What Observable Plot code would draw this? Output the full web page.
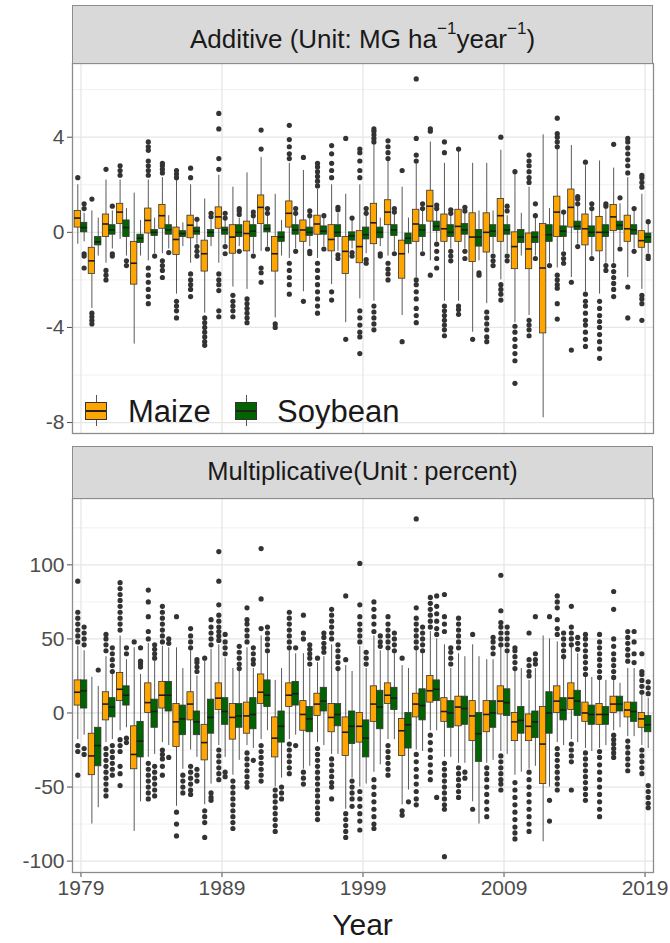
<!DOCTYPE html>
<html><head><meta charset="utf-8">
<script src="https://cdn.jsdelivr.net/npm/d3@7"></script>
<script src="https://cdn.jsdelivr.net/npm/@observablehq/plot@0.6"></script>
<style>
body{margin:0;background:#fff;font-family:"Liberation Sans",Arial,sans-serif}
#wrap{position:relative;width:670px;height:943px;overflow:hidden}
.strip{position:absolute;left:72px;width:581px;background:#D9D9D9;border:1.3px solid #8c8c8c;box-sizing:border-box}
.t{position:absolute;white-space:nowrap;color:#1A1A1A}
.sup{position:relative;top:-14px;font-size:17px;line-height:0}
.key{position:absolute;width:22px;height:18px;box-sizing:border-box;border:1.2px solid #333}
.key .m{position:absolute;left:0;right:0;top:7px;height:2px;background:#222}
.wh{position:absolute;width:1px;background:#555}
svg{position:absolute;left:0}
</style></head><body><div id="wrap"></div><script>
const years = [1979,1980,1981,1982,1983,1984,1985,1986,1987,1988,1989,1990,1991,1992,1993,1994,1995,1996,1997,1998,1999,2000,2001,2002,2003,2004,2005,2006,2007,2008,2009,2010,2011,2012,2013,2014,2015,2016,2017,2018,2019];
const crops = ["Maize","Soybean"];
const cropColors = ["#FFA500","#006400"];
const xTicks = [1979,1989,1999,2009,2019];
const addTicks = [-8,-4,0,4];
const addMinor = [-6,-2,2,6];
const mulTicks = [-100,-50,0,50,100];
const mulMinor = [-75,-25,25,75,125];

// [lower whisker, Q1, median, Q3, upper whisker]
const addMaize = [
[-0.5,0.2,0.6,0.9,2.0],[-3.2,-1.75,-1.2,-0.65,0.9],[-1.3,-0.2,0.35,0.75,2.2],[-0.3,0.35,0.85,1.2,2.2],[-4.7,-2.2,-1.3,-0.4,1.65],
[-1.2,-0.05,0.5,1.0,2.2],[-0.9,0.15,0.7,1.15,2.3],[-2.6,-0.95,-0.3,0.2,2.2],[-1.3,-0.25,0.3,0.7,2.0],[-3.4,-1.65,-0.9,-0.35,1.4],
[-1.3,0.15,0.65,1.05,2.4],[-2.3,-0.9,-0.2,0.3,1.9],[-2.4,-0.8,-0.05,0.45,2.5],[-0.8,0.35,1.05,1.55,3.15],[-3.6,-1.65,-0.9,-0.2,1.6],
[-1.1,0.2,0.8,1.3,2.9],[-2.5,-0.4,0.1,0.5,2.6],[-1.1,-0.1,0.35,0.7,1.8],[-2.2,-0.8,-0.3,0.3,2.0],[-3.8,-1.75,-0.8,-0.2,1.6],
[-2.8,-1.3,-0.6,0.05,2.0],[-2.9,-0.5,0.4,1.2,3.7],[-1.0,0.3,0.85,1.35,3.0],[-3.5,-1.95,-0.9,-0.35,1.9],[-1.9,-0.4,0.35,0.95,2.9],
[-1.2,0.45,1.1,1.75,3.8],[-2.9,-0.4,0.15,0.75,2.9],[-2.9,-0.4,0.25,0.95,3.4],[-4.2,-1.25,-0.2,0.8,2.9],[-3.0,-0.85,0.0,0.8,2.9],
[-2.0,-0.4,0.7,1.4,3.45],[-3.8,-1.55,-0.6,0.0,2.45],[-3.5,-1.55,-0.7,-0.05,1.9],[-7.8,-4.25,-1.5,0.35,4.1],[-1.5,-0.2,0.85,1.5,3.5],
[-1.9,0.2,1.05,1.8,3.65],[-2.5,-0.55,0.15,0.75,2.8],[-2.6,-0.8,0.0,0.65,3.0],[-1.3,0.05,0.65,1.15,2.7],[-1.9,-0.4,0.15,0.7,2.3],
[-2.4,-0.65,-0.35,0.05,1.6]];
const addMaizeOut = [
[2.3],[1.4,-3.4,-3.55,-3.7,-3.85],[2.65,-1.6,-1.8,-2.0],[2.4,2.6,2.8],[],
[2.4,2.6,2.8,3.0,3.45,3.6,3.8,-1.5,-1.8,-2.1,-2.4,-2.7,-3.0],[2.5,2.65,2.8,2.9,-1.2,-1.4,-1.6,-1.9],[2.3,2.45,2.6,-2.9,-3.1,-3.3,-3.6],[2.3,2.7,-1.75,-2.0,-2.2,-2.4,-2.7],[-3.6,-3.8,-4.0,-4.2,-4.4,-4.6,-4.75],
[2.65,3.1,4.35,5.0,-1.75,-2.0,-2.2,-2.45,-3.3,-3.55],[-2.65,-2.9,-3.1,-3.3,-3.55],[-2.8,-3.0,-3.2,-3.4,-3.6,-3.8],[3.5,4.3,-1.5,-1.7,-2.1],[-3.85,-4.0],
[3.1,3.3,3.6,3.9,4.5,-1.3,-1.6,-1.9,-2.2,-2.6],[3.15,-2.9],[1.95,2.15,2.35,2.55,2.75,2.9,-1.3,-1.6,-1.9,-2.2,-2.5,-2.8,-3.1,-3.4],[2.3,2.6,2.9,3.3,3.65,-2.5,-2.85],[3.95,-4.5],
[2.3,2.6,3.0,3.35,3.5,-3.3,-3.6,-3.9,-4.2,-4.4,-5.1],[3.8,3.95,4.1,4.25,4.35,-3.1,-3.35,-3.6,-3.85,-4.1],[3.1,3.35,3.6,3.85,-1.3,-1.55,-1.75,-2.0],[2.6,-4.6],[3.0,3.25,3.95,6.45,-2.0,-2.2,-2.5,-2.8,-3.2,-3.5,-3.8],
[4.25,4.35,-1.8],[3.35,3.8,-3.1,-3.3,-3.5,-3.7,-3.9,-4.1,-4.35],[3.5,-3.1,-3.25,-3.45],[-4.5],[-3.35,-3.6,-3.85,-4.1,-4.4,-4.6],
[4.0,-2.2,-2.4,-2.6,-2.85],[2.55,-3.95,-4.2,-4.5,-4.8,-5.1,-5.4,-6.35],[2.1,2.3,2.55,2.8,3.0,3.25,-3.7,-3.9,-4.1,-4.35],[],[3.6,3.8,4.0,4.15,4.8,-1.8,-2.0,-2.2,-2.35,-3.0,-3.65],
[-2.1,-4.95],[2.95,-2.6,-2.9,-3.1,-3.4,-3.7,-3.9,-4.2,-4.5,-4.8],[-2.9,-3.2,-3.5,-3.75,-4.0,-4.3,-4.6,-4.9,-5.3],[3.7,-1.4,-1.65,-1.9,-2.15,-2.4,-2.7],[2.5,2.8,3.05,3.3,3.55,3.8,3.95,-2.3,-3.6],
[1.9,2.1,2.3,2.4,-2.65,-2.8,-3.0,-3.7]];
const addSoy = [
[-0.4,0.0,0.2,0.4,0.8],[-1.0,-0.55,-0.4,-0.2,0.6],[-0.7,-0.1,0.1,0.3,0.9],[-1.0,-0.2,0.2,0.5,1.0],[-1.0,-0.45,-0.25,-0.1,0.5],
[-0.9,-0.15,0.0,0.1,0.6],[-0.7,-0.1,0.1,0.3,0.7],[-0.6,-0.2,-0.05,0.05,0.4],[-0.5,-0.1,0.05,0.2,0.45],[-0.6,-0.2,0.0,0.1,0.5],
[-0.5,-0.1,0.1,0.2,0.5],[-0.6,-0.2,0.0,0.3,0.6],[-0.9,-0.2,0.05,0.3,0.6],[-0.6,0.0,0.15,0.3,0.7],[-1.0,-0.4,-0.2,0.0,0.5],
[-0.7,-0.1,0.1,0.3,0.7],[-0.6,-0.15,0.0,0.2,0.6],[-0.6,-0.1,0.05,0.25,0.6],[-0.8,-0.2,0.0,0.3,0.8],[-0.7,-0.35,-0.15,0.0,0.55],
[-0.9,-0.3,-0.1,0.2,0.7],[-0.6,-0.25,0.0,0.2,0.6],[-0.8,-0.15,0.1,0.3,0.8],[-0.9,-0.5,-0.25,-0.05,0.6],[-0.8,-0.2,0.1,0.3,0.9],
[-0.4,0.05,0.25,0.45,0.9],[-0.7,-0.2,0.0,0.3,0.7],[-0.7,-0.1,0.1,0.35,0.8],[-1.2,-0.6,-0.2,0.1,0.9],[-0.9,-0.2,0.05,0.3,0.9],
[-0.9,-0.1,0.1,0.3,0.7],[-1.0,-0.45,-0.2,0.1,0.8],[-1.0,-0.45,-0.2,0.0,0.6],[-1.3,-0.4,-0.1,0.3,1.0],[-0.8,-0.2,0.05,0.25,0.8],
[-0.5,0.1,0.25,0.45,1.1],[-1.0,-0.2,0.0,0.25,0.9],[-1.3,-0.2,0.0,0.3,1.0],[-0.6,0.1,0.3,0.45,1.2],[-0.7,-0.1,0.1,0.3,0.9],
[-0.9,-0.45,-0.2,-0.05,0.35]];
const addSoyOut = [
[1.2,1.0,-0.9,-1.0,-1.5],[],[1.1,-0.9,-1.0],[-1.2,-1.4],[],
[-1.0],[-0.85],[],[0.55,-0.6,-0.8,-1.0],[0.65,0.8],
[0.6,0.8,-0.6,-0.9],[0.75,0.9,1.0,-0.8],[0.7,0.85,-1.0],[0.8,1.0,-0.7],[],
[0.8,1.0,-0.8],[0.7,0.9,-0.8,-0.9],[0.7,-0.7],[0.95,1.05,-0.95,-1.1],[0.6,-0.85,-1.0],
[0.8,1.0,-1.15,-1.3],[-0.9,-1.0],[0.85,1.0,-0.9],[],[1.0,1.2,-0.9],
[1.0,1.15,-0.5,-0.8,-1.1,-1.5],[0.8,0.95,-0.8,-1.0,-1.2],[0.9,1.05,-0.8,-1.1],[-1.7,-1.8],[-1.0,-1.2,-1.4],
[0.9,1.1,-1.0,-1.2],[],[0.7,1.2,-1.1],[-1.4],[0.85,-0.9,-1.1,-1.3],
[1.2,1.4,1.5,-0.6],[1.0,1.2,-1.1],[1.1,1.2,-1.4,-1.6],[1.45,-0.7],[1.0,-0.8],
[0.45,-1.0,-1.1]];

const mulMaize = [
[-18,5,14,22,45],[-75,-42,-29,-14,24],[-20,-5,6,14,38],[-12,8,16,27,52],[-80,-38,-28,-9,44],
[-30,0,7,20,47],[-20,3,12,21,45],[-63,-23,-6,6,44],[-25,-5,6,14,42],[-62,-32,-20,-8,35],
[-22,2,10,20,46],[-42,-18,-3,6,30],[-22,-14,-2,7,44],[-18,6,14,26,52],[-50,-30,-17,-3,22],
[-18,4,12,20,42],[-38,-12,-1,8,40],[-20,-2,6,13,34],[-28,-13,-3,6,46],[-65,-29,-13,-3,32],
[-50,-20,-9,0,45],[-40,-6,6,18,52],[-18,6,12,20,42],[-62,-29,-12,-4,32],[-25,-3,6,13,42],
[-12,7,15,25,55],[-30,-6,1,10,46],[-34,-9,4,11,40],[-60,-19,-2,8,46],[-34,-13,-1,8,36],
[-26,-1,8,18,44],[-42,-19,-6,0,28],[-38,-19,-9,-1,22],[-87,-48,-21,4,52],[-20,0,8,18,48],
[-18,2,10,20,44],[-24,-6,0,7,24],[-24,-8,-1,6,22],[-12,0,6,11,22],[-16,-3,2,7,30],
[-22,-10,-4,0,12]];
const mulMaizeOut = [
[48,52,56,60,64,68,89,-22,-26,-42],[],[42,46,50,53,-24,-28,-32,-36,-40,-44,-48,-52,-56],[56,60,64,68,72,76,80,84,88,-18,-22,-26,-36,-41,-49],[48],
[50,55,65,75,83,-34,-38,-42,-46,-50,-54,-58],[48,52,56,60,64,68,72,-25,-28,-31,-36,-42],[65,-67,-75,-83],[44,48,52,57,-36,-40,-44,-48,-52,-55],[37,-66,-70,-74,-84],
[49,52,55,58,62,66,73,89,109,-25,-29,-33,-37,-41,-45],[-46,-50,-54,-58,-62,-66,-70,-74,-78],[48,52,56,60,63,71,-27,-31,-35,-39,-43,-47,-50],[57,77,111,-22,-26,-30,-34,-38,-42,-46],[-52,-56,-60,-64,-68,-72,-76,-80],
[44,48,52,56,60,64,68,-21,-25,-29,-33,-37,-41],[50,54,66,-40,-44,-48],[37,-24,-28,-32,-36,-40,-44,-48,-52,-56,-60,-64,-68,-72],[50,54,58,62,66,70,-31,-35,-39,-43,-47,-50,-58],[36,79,-68,-72,-76,-80,-84],
[48,52,56,60,65,73,101,-53,-58,-63,-68,-73,-79],[55,60,65,70,75,-45,-50,-55,-60,-65,-70,-75,-78],[44,48,52,56,60,65,-22,-26,-30,-34,-38,-42],[37,-66,-69],[44,48,52,56,60,64,71,131,-28,-33,-38,-43,-48,-53,-58,-62],
[58,62,66,70,74,78,-15,-20,-25,-30,-35,-40,-45],[55,60,65,80,-34,-38,-42,-46,-50,-54,-58,-62,-65,-97],[44,48,52,56,60,64,-37,-41,-45,-49,-53,-57],[53,-65],[-37,-41,-45,-50,-55,-60,-65,-70],
[46,50,54,58,61,69,93,-29,-33,-37,-41,-45,-48,-52],[30,34,38,42,44,-47,-52,-57,-62,-67,-72,-77,-81,-85],[25,28,32,36,54,-40,-45,-50,-55,-60,-65,-70,-75,-80],[],[53,57,63,71,75,79,-24,-28,-32,-36,-40,-44,-48,-52],
[46,50,54,58,72,-21,-25,-29,-33,-52],[26,30,34,38,42,46,50,53,-27,-31,-35,-39,-43,-47,-51,-55,-59],[24,28,32,36,40,44,48,53,-26,-30,-35,-40,-45,-50,-55,-60,-65,-70],[24,28,32,36,40,45,50,70,82,-15,-18,-21,-24,-27,-30],[35,39,43,47,51,55,-19,-23,-27,-31,-35,-39],
[14,18,22,26,28,40,-25,-29,-33,-37,-41]];
const mulSoy = [
[-15,3,15,22,42],[-64,-36,-22,-10,18],[-18,-3,4,10,26],[-10,5,12,18,36],[-60,-30,-19,-6,26],
[-28,-10,1,9,35],[-22,1,12,21,44],[-38,-15,-4,5,30],[-30,-15,-6,1,25],[-48,-14,-3,9,43],
[-30,-8,1,10,37],[-32,-10,-2,6,28],[-24,-11,-1,10,30],[-12,4,12,22,40],[-44,-20,-9,1,30],
[-15,5,13,21,40],[-36,-13,-4,4,30],[-22,1,8,17,38],[-28,-9,-1,6,28],[-44,-21,-9,1,28],
[-48,-30,-17,-5,30],[-35,-11,4,15,42],[-18,2,10,17,40],[-52,-24,-8,0,30],[-26,-5,5,16,40],
[-12,8,16,22,50],[-30,-10,0,8,30],[-34,-8,3,11,38],[-75,-33,-14,0,38],[-32,-10,0,8,36],
[-28,-2,7,16,40],[-40,-14,-5,4,30],[-36,-17,-6,1,30],[-50,-14,0,14,50],[-22,-5,2,10,36],
[-20,-2,8,15,40],[-26,-8,-1,5,24],[-22,-8,-1,4,22],[-10,1,6,11,20],[-16,-6,1,7,30],
[-24,-13,-8,-2,10]];
const mulSoyOut = [
[46,50,54,58,-24,-28],[29],[28,32,36,40,44,-22,-26,-30,-34,-38,-42],[40,44,-17,-20],[31,33,35,44],
[37,40,43,46,-36,-40,-44,-48,-52,-56],[47,50,-30],[-42,-46,-50,-54],[28,31,34,36,-38,-42,-46],[46,50,54,58,63,-54,-57,-59],
[40,44,48,53,-40,-43],[30,33,37,41,45],[33,36,40,44,-32],[42,46,50,54,58],[-50,-54,-58],
[44,-22],[33,37,40,43,46],[41,44,47,51,54],[30,34,38,42,46],[-46,-50,-54,-58,-63],
[33,37,41],[45,48,52],[42,46,50,54],[-60],[42,46,50,54,58],
[53,57,62,67,72,79,-57],[33,37,41,44],[-40,-44],[],[40,44,48,51],
[42,46,50,54,58],[],[33,36,40,65],[65,-59,-73],[38,42,46,50,54],
[43,47,51],[],[],[],[34,40,48,55],
[13,17,21,-49,-53,-57,-61,-64]];

function build(statsByCrop, outsByCrop) {
  const boxes = [], outs = [];
  statsByCrop.forEach((stats, c) => {
    const off = c === 0 ? -0.225 : 0.225;
    stats.forEach((s, i) => {
      const y = years[i];
      boxes.push({xc: y + off, x1: y + off - 0.225, x2: y + off + 0.225,
        lo: s[0], q1: s[1], med: s[2], q3: s[3], hi: s[4], fill: cropColors[c], crop: crops[c]});
      outsByCrop[c][i].forEach(v => outs.push({xc: y + off, v}));
    });
  });
  boxes.sort((a, b) => a.xc - b.xc);
  return {boxes, outs};
}

function panel(data, opts) {
  const {boxes, outs} = data;
  return Plot.plot({
    width: 670, height: opts.height,
    marginLeft: 72, marginRight: 17, marginTop: opts.marginTop, marginBottom: opts.marginBottom,
    style: {fontFamily: "'Liberation Sans', Arial, sans-serif", fontSize: "21px", color: "#4D4D4D", background: "transparent", overflow: "visible"},
    x: opts.xAxis
      ? {domain: [1978.4, 2019.6], ticks: xTicks, tickFormat: d => String(d), tickSize: 5, tickPadding: 3, label: null}
      : {domain: [1978.4, 2019.6], axis: null},
    y: {domain: opts.yDomain, ticks: opts.yTicks, tickFormat: d => String(d), tickSize: 5, tickPadding: 3, label: null},
    marks: [
      Plot.ruleY(opts.yMinor, {stroke: "#EEEEEE", strokeWidth: 0.8}),
      Plot.ruleY(opts.yTicks, {stroke: "#E6E6E6", strokeWidth: 1.3}),
      Plot.ruleX(xTicks, {stroke: "#E6E6E6", strokeWidth: 1.3}),
      Plot.ruleX(boxes, {x: "xc", y1: "lo", y2: "q1", stroke: "#5a5a5a", strokeWidth: 1}),
      Plot.ruleX(boxes, {x: "xc", y1: "q3", y2: "hi", stroke: "#5a5a5a", strokeWidth: 1}),
      Plot.rect(boxes, {x1: "x1", x2: "x2", y1: "q1", y2: "q3", fill: "fill", stroke: "#333", strokeWidth: 0.8}),
      Plot.ruleY(boxes, {y: "med", x1: "x1", x2: "x2", stroke: "#1a1a1a", strokeWidth: 1.6}),
      Plot.dot(outs, {x: "xc", y: "v", r: 2.6, fill: "#333", stroke: "none"}),
      Plot.frame({stroke: "#8c8c8c", strokeWidth: 1.3})
    ]
  });
}

const wrap = document.getElementById("wrap");
const topPlot = panel(build([addMaize, addSoy], [addMaizeOut, addSoyOut]),
  {height: 440, marginTop: 63, marginBottom: 7, yDomain: [-8.46, 7.1], yTicks: addTicks, yMinor: addMinor, xAxis: false});
topPlot.style.top = "0px";
wrap.appendChild(topPlot);
const botPlot = panel(build([mulMaize, mulSoy], [mulMaizeOut, mulSoyOut]),
  {height: 503, marginTop: 58, marginBottom: 71, yDomain: [-107.7, 144.8], yTicks: mulTicks, yMinor: mulMinor, xAxis: true});
botPlot.style.top = "440px";
wrap.appendChild(botPlot);

function div(cls, css, html) {
  const d = document.createElement("div");
  d.className = cls; d.style.cssText = css; if (html != null) d.innerHTML = html;
  wrap.appendChild(d); return d;
}
div("strip", "top:5px;height:59px;");
div("t", "left:72px;width:581px;text-align:center;top:27px;font-size:26px;line-height:25px;",
  "Additive (Unit: MG ha<span class='sup'>\u22121</span>year<span class='sup'>\u22121</span>)");
div("strip", "top:446px;height:53px;");
div("t", "left:72px;width:581px;text-align:center;top:459px;font-size:25.5px;line-height:25px;",
  "Multiplicative(Unit\u2009:\u2009percent)");
div("t", "left:72px;width:581px;text-align:center;top:910px;font-size:30px;line-height:30px;", "Year");
const keyX = [85, 235], labX = [128, 277];
crops.forEach((c, i) => {
  div("wh", `left:${keyX[i] + 10.5}px;top:395px;height:7px;`);
  div("wh", `left:${keyX[i] + 10.5}px;top:420px;height:6px;`);
  const k = div("key", `left:${keyX[i]}px;top:402px;background:${cropColors[i]};`);
  const m = document.createElement("div"); m.className = "m"; k.appendChild(m);
  div("t", `left:${labX[i]}px;top:397px;font-size:31px;line-height:29px;`, c);
});
</script></body></html>
